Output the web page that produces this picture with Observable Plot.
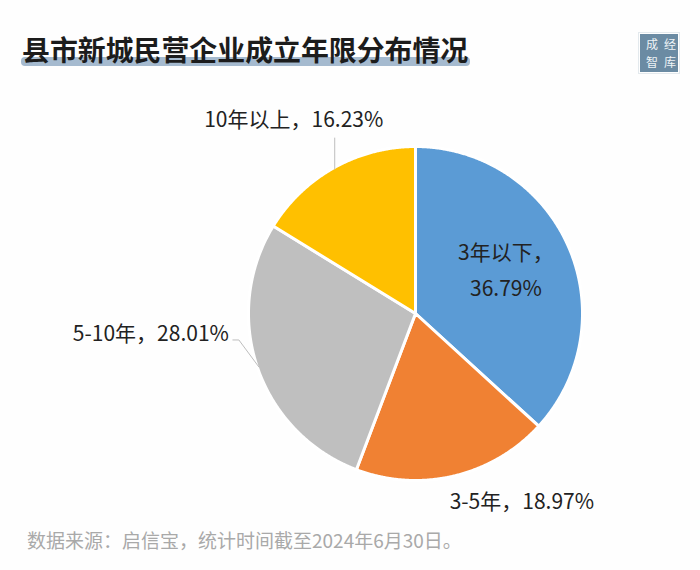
<!DOCTYPE html>
<html><head><meta charset="utf-8">
<script src="https://cdn.jsdelivr.net/npm/d3@7"></script>
<script src="https://cdn.jsdelivr.net/npm/@observablehq/plot@0.6"></script>
<style>
html,body{margin:0;padding:0;background:#fefefe;width:700px;height:570px;overflow:hidden;font-family:"Noto Sans CJK SC","Noto Sans",sans-serif}
#head{position:relative;height:85px}
#title{position:absolute;left:22px;top:29px;font-size:27.9px;font-weight:700;color:#1c1c1c;line-height:40px;white-space:nowrap;z-index:1}
#bar{position:absolute;left:21px;top:57px;width:449px;height:9px;border-radius:4px;background:#a5bacf}
#logo{position:absolute;left:640px;top:34px;width:38px;height:38px;background:#6b8ba3;outline:1px solid #e3e9ed;outline-offset:1px}
#logo span{position:absolute;left:0;width:38px;text-align:center;color:#eef3f6;font-size:12px;line-height:15px;letter-spacing:6px;padding-left:6px;box-sizing:border-box;white-space:nowrap}
#l1{top:2px}#l2{top:20px}
#cap{position:absolute;left:27px;top:527px;font-size:19px;line-height:26px;color:#a9a9a9;white-space:nowrap}
svg{display:block}
</style></head><body>
<div id="head"><div id="bar"></div><div id="title"></div><div id="logo"><span id="l1">成经</span><span id="l2">智库</span></div></div>
<div id="chart"></div>
<div id="cap"></div>
<script>
const titleText = "县市新城民营企业成立年限分布情况";
const captionText = "数据来源：启信宝，统计时间截至2024年6月30日。";
const categories = ["3年以下", "3-5年", "5-10年", "10年以上"];
const shares = [36.79, 18.97, 28.01, 16.23];
const labels = ["3年以下，\n36.79%", "3-5年，18.97%", "5-10年，28.01%", "10年以上，16.23%"];
const colors = ["#5b9bd5", "#f08133", "#bfbfbf", "#ffc000"];

document.getElementById("title").textContent = titleText;
document.getElementById("cap").textContent = captionText;

const R = 167; // pixel radius of the pie, used to turn pixel offsets into unit-circle units
const arcs = d3.pie().sort(null)(shares);
const polar = (a, r = 1) => [r * Math.sin(a), r * Math.cos(a)];

// Outline of every slice, walked along its own angles
const outline = arcs.flatMap((s, i) => {
  const n = Math.ceil((s.endAngle - s.startAngle) / 0.005);
  const pts = [{c: categories[i], p: [0, 0]}];
  for (let k = 0; k <= n; k++) pts.push({c: categories[i], p: polar(s.startAngle + (s.endAngle - s.startAngle) * k / n)});
  pts.push({c: categories[i], p: [0, 0]});
  return pts;
});

const mid = arcs.map(s => polar((s.startAngle + s.endAngle) / 2, 165.5 / R));
const off = (p, dx, dy) => [p[0] + dx / R, p[1] - dy / R];
const leaders = [
  {k: "a", pts: [mid[3], off(mid[3], 0, -31)]},
  {k: "b", pts: [mid[2], off(mid[2], -20, -27), off(mid[2], -26, -27)]}
].flatMap(l => l.pts.map(p => ({k: l.k, p})));

const label = (i, dx, dy, lineHeight = 1) => Plot.text([{t: labels[i], p: mid[i]}], {
  x: d => d.p[0], y: d => d.p[1], text: "t", dx, dy, lineHeight,
  fontSize: 21, fill: "#222", textAnchor: "middle", lineAnchor: "middle"
});

const chart = Plot.plot({
  width: 700, height: 435,
  marginLeft: 248, marginRight: 118, marginTop: 61, marginBottom: 40,
  x: {domain: [-1, 1], axis: null},
  y: {domain: [-1, 1], axis: null},
  color: {domain: categories, range: colors},
  style: {background: "transparent", fontFamily: '"Noto Sans CJK SC","Noto Sans",sans-serif'},
  marks: [
    Plot.line(outline, {x: d => d.p[0], y: d => d.p[1], z: "c", fill: "c", stroke: "#fff", strokeWidth: 3, strokeLinejoin: "round"}),
    Plot.line(leaders, {x: d => d.p[0], y: d => d.p[1], z: "k", stroke: "#bdbdbd", strokeWidth: 1}),
    label(0, -61, 20, 1.68),
    label(1, 68, 28),
    label(2, -108, -33),
    label(3, -41, -49)
  ]
});
document.getElementById("chart").appendChild(chart);
</script>
</body></html>
